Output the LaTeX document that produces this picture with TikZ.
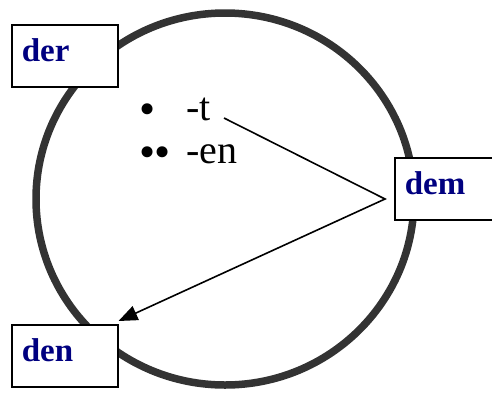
\documentclass[tikz,border=0pt]{standalone}
\usepackage{fontspec}
\setmainfont{Liberation Serif}
\usetikzlibrary{arrows.meta}

\definecolor{casenavy}{RGB}{0,0,128}
\definecolor{ringgray}{RGB}{51,51,51}

\begin{document}
\begin{tikzpicture}[x=1pt, y=-1pt,
        casebox/.style={draw, line width=1.5pt, fill=white, anchor=north west,
            minimum height=62pt, text width=86pt, inner xsep=10pt, align=left,
            text height=22pt, text depth=10pt,
            font=\fontsize{33}{33}\selectfont\bfseries, text=casenavy},
        ending/.style={anchor=base west, inner sep=0pt, font=\fontsize{40}{40}\selectfont},
        dots/.style={anchor=base west, inner sep=0pt, font=\fontsize{46}{46}\selectfont},
        pointer/.style={line width=1.6pt, -{Triangle[length=19pt, width=15pt]}}]
        \useasboundingbox (0, 0) rectangle (492, 392);

        % the ring
        \draw[ringgray, line width=7.5pt] (225, 199) ellipse [x radius=189, y radius=186];

        \node[casebox] (der) at (11, 24) {der};
        \node[casebox] (dem) at (394, 157) {dem};
        \node[casebox] (den) at (11, 324) {den};

        \node[dots] (b1) at (139, 124) {\textbullet};
        \node[ending] (t1) at (186, 120) {-t};
        \node[dots] (b2) at (139, 167) {\textbullet\kern-1pt\textbullet};
        \node[ending] (t2) at (186, 163) {-en};

        \coordinate (tail) at (224, 118);
        \coordinate (bend) at (385, 199);

        \draw[pointer] (tail) -- (bend) -- ([yshift=3pt]den.north east);
    \end{tikzpicture}
\end{document}
